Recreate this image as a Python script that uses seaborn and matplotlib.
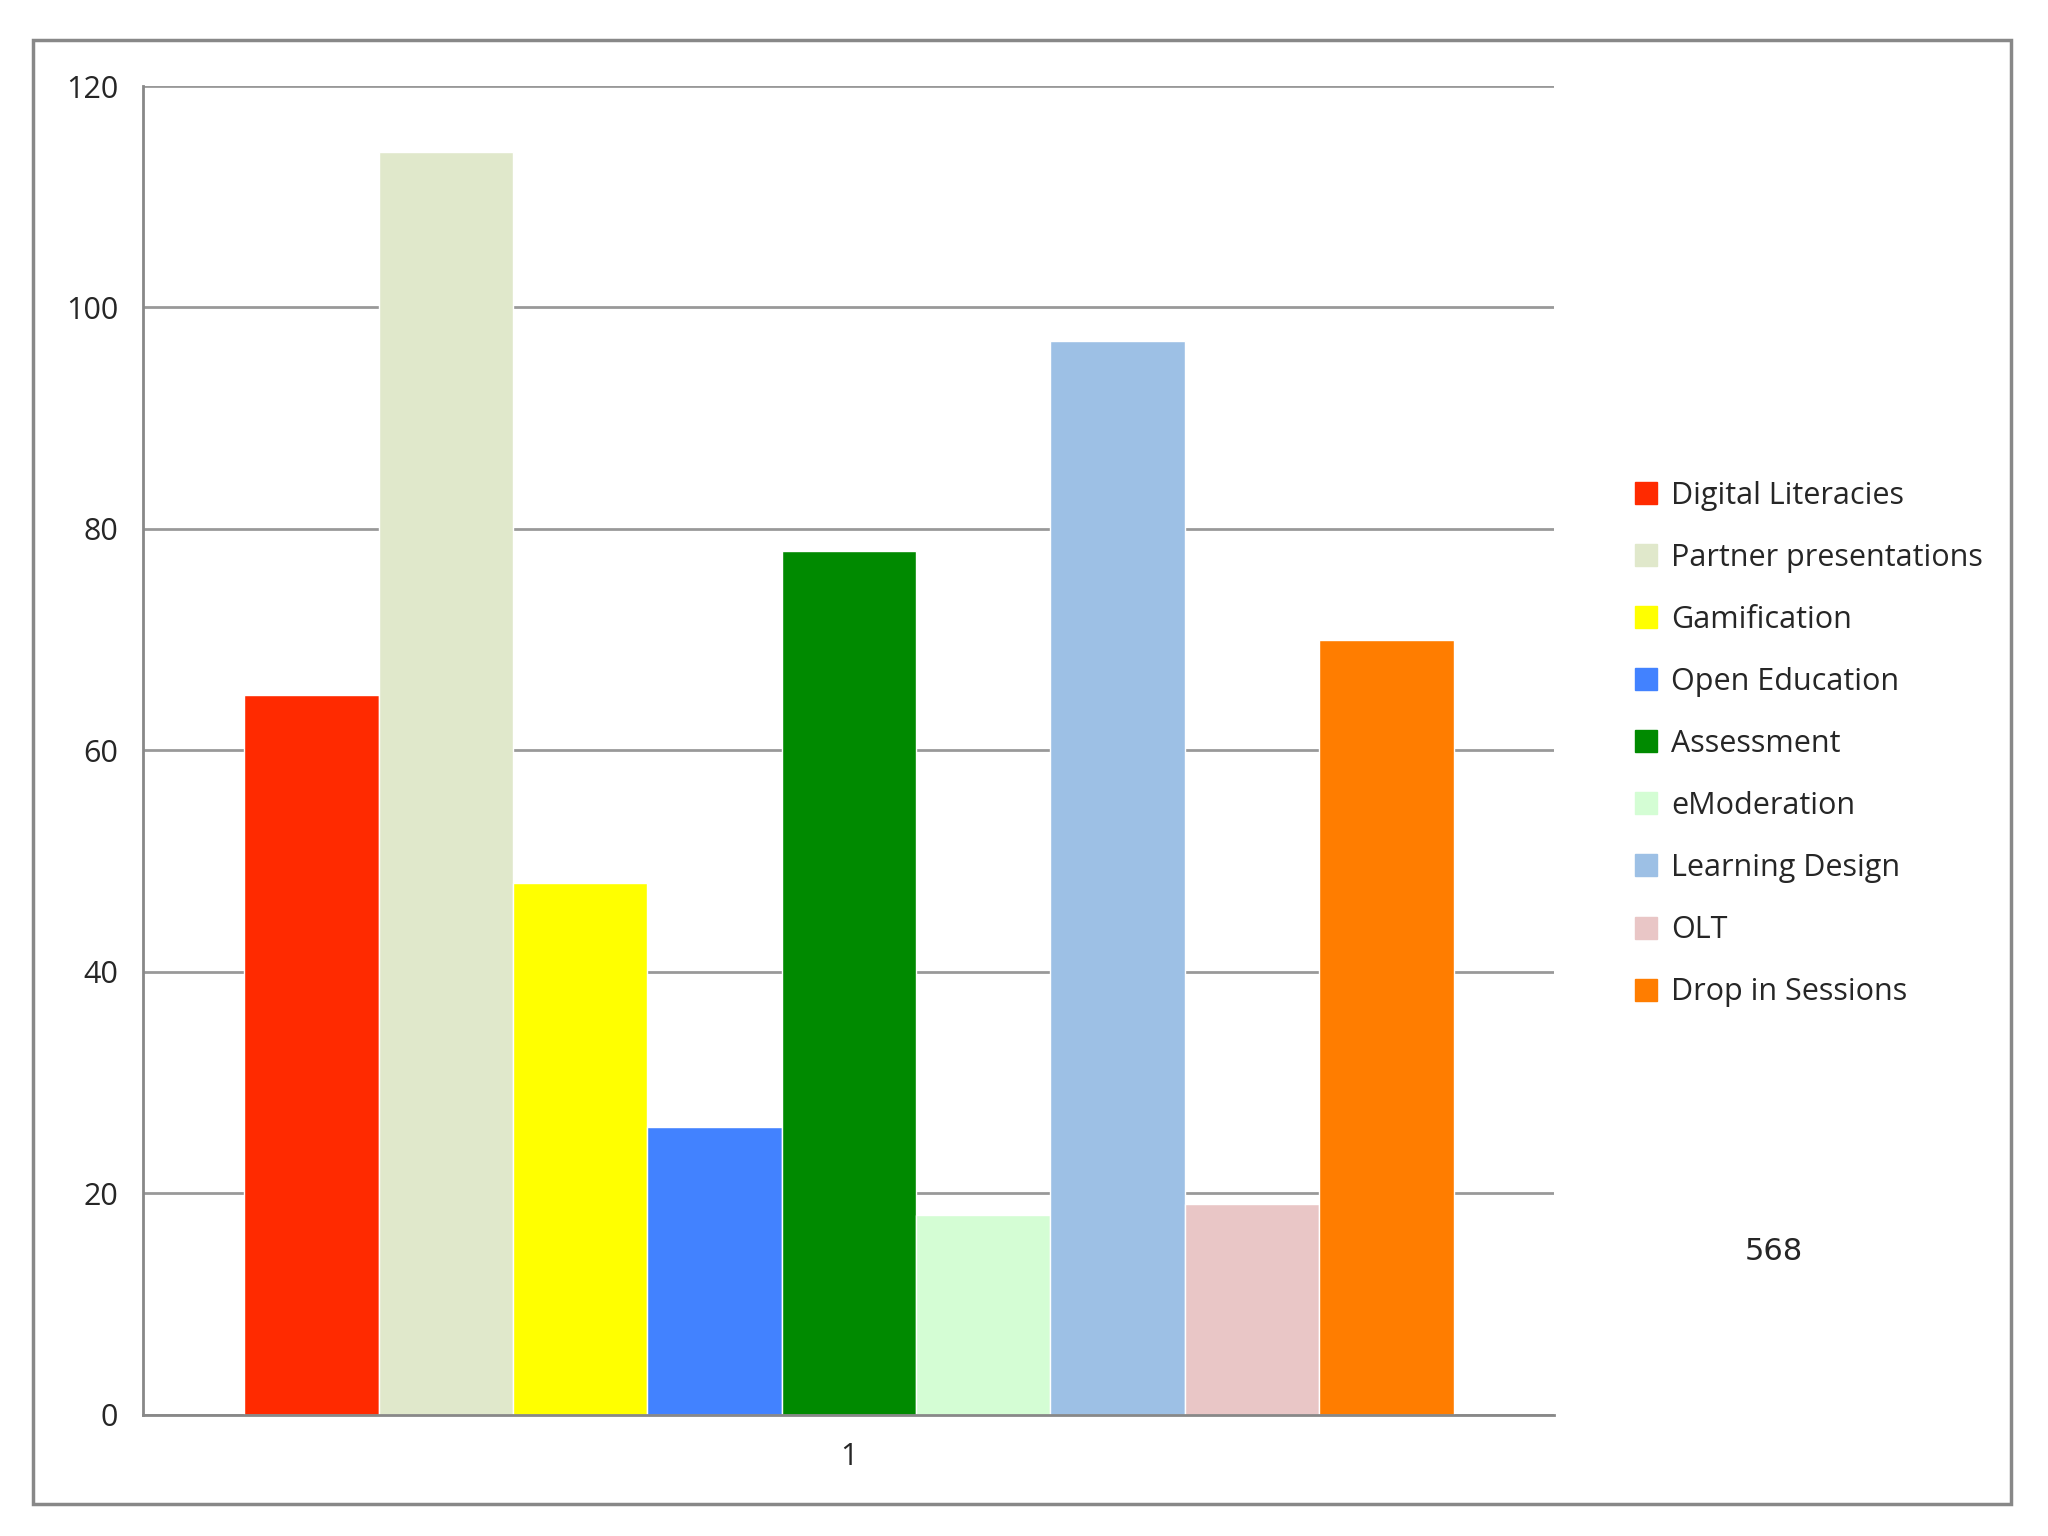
import pandas as pd
import seaborn as sns
import matplotlib.pyplot as plt
import matplotlib.patches as patches
from matplotlib.lines import Line2D

topics = ['Digital Literacies', 'Partner presentations', 'Gamification', 'Open Education',
          'Assessment', 'eModeration', 'Learning Design', 'OLT', 'Drop in Sessions']
counts = [65, 114, 48, 26, 78, 18, 97, 19, 70]
colors = ['#FF2A00', '#E0E8CB', '#FFFF00', '#4282FF', '#008A00',
          '#D4FDD4', '#9DC0E5', '#E9C6C6', '#FF7D00']
total_label = '568'

df = pd.DataFrame({'group': ['1'] * len(topics), 'topic': topics, 'count': counts})

sns.set_style('white')
plt.rcParams['font.family'] = ['Open Sans', 'DejaVu Sans']

fig = plt.figure(figsize=(20.48, 15.36), dpi=100)
ax = fig.add_axes([0.070, 0.079, 0.689, 0.865])

sns.barplot(data=df, x='group', y='count', hue='topic', hue_order=topics,
            palette=colors, width=0.857, saturation=1, legend=False, ax=ax, zorder=2)

ax.set_ylim(0, 120)
ax.set_xlim(-0.5, 0.5)
ax.set_yticks(range(0, 121, 20))
ax.yaxis.grid(True, color='#999999', linewidth=2, zorder=0)
ax.set_axisbelow(True)
for s in ['top', 'right']:
    ax.spines[s].set_visible(False)
for s in ['left', 'bottom']:
    ax.spines[s].set_color('#888888')
    ax.spines[s].set_linewidth(2)
ax.tick_params(axis='y', length=10, width=2, color='#888888', labelsize=22, pad=8)
ax.tick_params(axis='x', length=0, labelsize=22, pad=20)
ax.set_xlabel('')
ax.set_ylabel('')

handles = [Line2D([0], [0], marker='s', linestyle='', markersize=16,
                  markerfacecolor=c, markeredgecolor=c) for c in colors]
fig.legend(handles, topics, loc='upper left', bbox_to_anchor=(0.783, 0.705),
           frameon=False, fontsize=22, labelspacing=1.05, handletextpad=0.3,
           handlelength=1.0)

fig.text(0.866, 0.185, total_label, fontsize=22, ha='center', va='center',
         family='DejaVu Sans')

fig.patches.append(patches.Rectangle((0.016, 0.021), 0.966, 0.953, transform=fig.transFigure,
                                     fill=False, edgecolor='#888888', linewidth=2.5))

fig.savefig('out.png', dpi=100)
